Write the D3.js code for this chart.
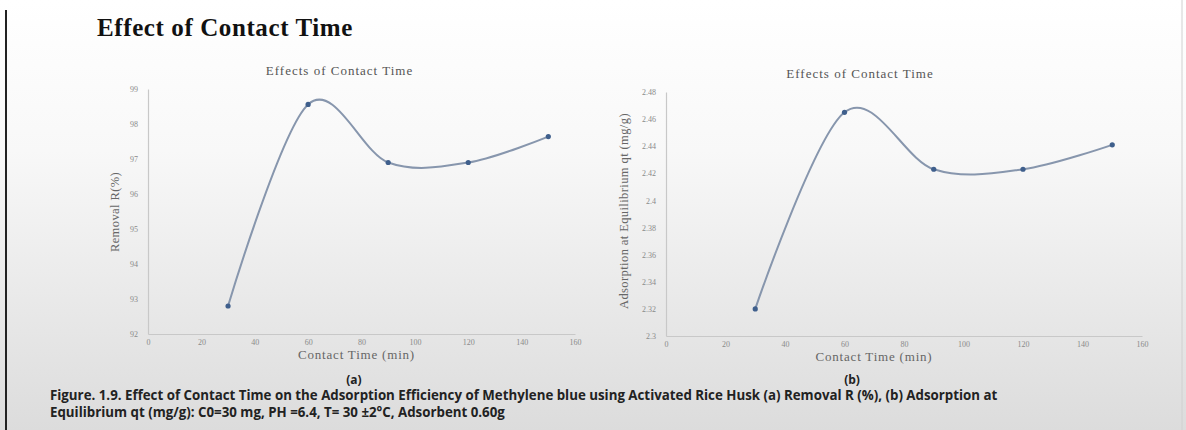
<!DOCTYPE html>
<html>
<head>
<meta charset="utf-8">
<script src="https://cdn.jsdelivr.net/npm/d3@7"></script>
<style>
  body { margin: 0; padding: 0; }
  svg { display: block; }
</style>
</head>
<body>
<script>
// data
var contactTime = [30, 60, 90, 120, 150];
var removal = [92.8, 98.56, 96.9, 96.9, 97.64];
var adsorption = [2.32, 2.465, 2.423, 2.423, 2.441];
var removalTicks = [92, 93, 94, 95, 96, 97, 98, 99];
var adsorptionTicks = [2.3, 2.32, 2.34, 2.36, 2.38, 2.4, 2.42, 2.44, 2.46, 2.48];
var timeTicks = [0, 20, 40, 60, 80, 100, 120, 140, 160];

var W = 1186, H = 430;

var svg = d3.select("body").append("svg")
    .attr("width", W)
    .attr("height", H);

var defs = svg.append("defs");
var grad = defs.append("linearGradient")
    .attr("id", "bg")
    .attr("x1", 0).attr("y1", 0).attr("x2", 0).attr("y2", 1);
grad.append("stop").attr("offset", "0%").attr("stop-color", "#ffffff");
grad.append("stop").attr("offset", "35%").attr("stop-color", "#f8f8f8");
grad.append("stop").attr("offset", "100%").attr("stop-color", "#dcdcdc");

svg.append("rect")
    .attr("width", W).attr("height", H)
    .attr("fill", "url(#bg)");

// slide border lines
svg.append("line")
    .attr("x1", 6).attr("x2", 6).attr("y1", 10).attr("y2", H)
    .attr("stroke", "#222").attr("stroke-width", 2);
svg.append("line")
    .attr("x1", 1182).attr("x2", 1182).attr("y1", 0).attr("y2", H)
    .attr("stroke", "#d0d0d0").attr("stroke-width", 1);

svg.append("text")
    .attr("x", 97).attr("y", 36)
    .style("font-family", "Liberation Serif")
    .style("font-weight", "bold")
    .style("font-size", "25px")
    .style("letter-spacing", "0.6px")
    .style("fill", "#111")
    .text("Effect of Contact Time");

function drawPanel(opt) {
    var x = d3.scaleLinear().domain([0, 160]).range([opt.left, opt.right]);
    var y = d3.scaleLinear().domain(opt.yDomain).range([opt.bottom, opt.top]);
    var g = svg.append("g");
    var mid = (opt.left + opt.right) / 2;

    // axes
    var xAxis = g.append("g")
        .attr("transform", "translate(0," + opt.bottom + ")")
        .call(d3.axisBottom(x).tickValues(timeTicks).tickSize(0).tickPadding(5));
    var yAxis = g.append("g")
        .attr("transform", "translate(" + opt.left + ",0)")
        .call(d3.axisLeft(y).tickValues(opt.yTicks).tickSize(0).tickPadding(10)
            .tickFormat(opt.fmt));
    [xAxis, yAxis].forEach(function (a) {
        a.select(".domain").attr("stroke", "#c8c8c8").attr("stroke-width", 1.2);
        a.selectAll("text")
            .style("font-family", "Liberation Serif")
            .style("font-size", "8px")
            .style("fill", "#8a8a8a");
    });

    g.append("text")
        .attr("x", mid + opt.titleShift)
        .attr("y", opt.top - 14)
        .attr("text-anchor", "middle")
        .style("font-family", "Liberation Serif")
        .style("font-size", "13px")
        .style("letter-spacing", "1px")
        .style("fill", "#555")
        .text("Effects of Contact Time");

    g.append("text")
        .attr("x", mid + opt.xTitleShift)
        .attr("y", opt.bottom + 25)
        .attr("text-anchor", "middle")
        .style("font-family", "Liberation Serif")
        .style("font-size", "13px")
        .style("letter-spacing", "0.8px")
        .style("fill", "#666")
        .text("Contact Time (min)");

    g.append("text")
        .attr("transform", "translate(" + opt.yLabelX + "," + opt.yLabelY + ") rotate(-90)")
        .attr("text-anchor", "middle")
        .style("font-family", "Liberation Serif")
        .style("font-size", "12.5px")
        .style("letter-spacing", "0.4px")
        .style("fill", "#666")
        .text(opt.yLabel);

    // (a) / (b) tag under the panel, baseline kept just above the caption
    g.append("text")
        .attr("x", opt.tagX)
        .attr("y", 384)
        .attr("text-anchor", "middle")
        .style("font-family", "Open Sans")
        .style("font-weight", "bold")
        .style("font-size", "12px")
        .style("fill", "#222")
        .text(opt.tag);

    var line = d3.line()
        .x(function (d, i) { return x(contactTime[i]); })
        .y(function (d) { return y(d); })
        .curve(d3.curveCardinal.tension(0));

    g.append("path")
        .datum(opt.values)
        .attr("d", line)
        .attr("fill", "none")
        .attr("stroke", "#8796ad")
        .attr("stroke-width", 2);

    g.selectAll("circle")
        .data(opt.values)
        .enter()
        .append("circle")
        .attr("cx", function (d, i) { return x(contactTime[i]); })
        .attr("cy", function (d) { return y(d); })
        .attr("r", 2.6)
        .attr("fill", "#3f5f8c");
}

drawPanel({
    left: 148, right: 575, top: 89, bottom: 334,
    yDomain: [92, 99], yTicks: removalTicks,
    fmt: d3.format("d"),
    yLabel: "Removal R(%)", yLabelX: 119, yLabelY: 212,
    tag: "(a)", tagX: 354, titleShift: -22, xTitleShift: -5,
    values: removal
});

drawPanel({
    left: 666, right: 1142, top: 92, bottom: 336,
    yDomain: [2.3, 2.48], yTicks: adsorptionTicks,
    fmt: function (d) { return String(+d.toFixed(2)); },
    yLabel: "Adsorption at Equilibrium qt (mg/g)", yLabelX: 628, yLabelY: 211,
    tag: "(b)", tagX: 852, titleShift: -44, xTitleShift: -30,
    values: adsorption
});

var caption = svg.append("text")
    .style("font-family", "Open Sans")
    .style("font-weight", "bold")
    .style("font-size", "13.3px")
    .style("fill", "#222");
caption.append("tspan").attr("x", 50).attr("y", 400)
    .text("Figure. 1.9. Effect of Contact Time on the Adsorption Efficiency of Methylene blue using Activated Rice Husk (a) Removal R (%), (b) Adsorption at");
caption.append("tspan").attr("x", 50).attr("y", 417)
    .text("Equilibrium qt (mg/g): C0=30 mg, PH =6.4, T= 30 \u00b12\u00b0C, Adsorbent 0.60g");
</script>
</body>
</html>
